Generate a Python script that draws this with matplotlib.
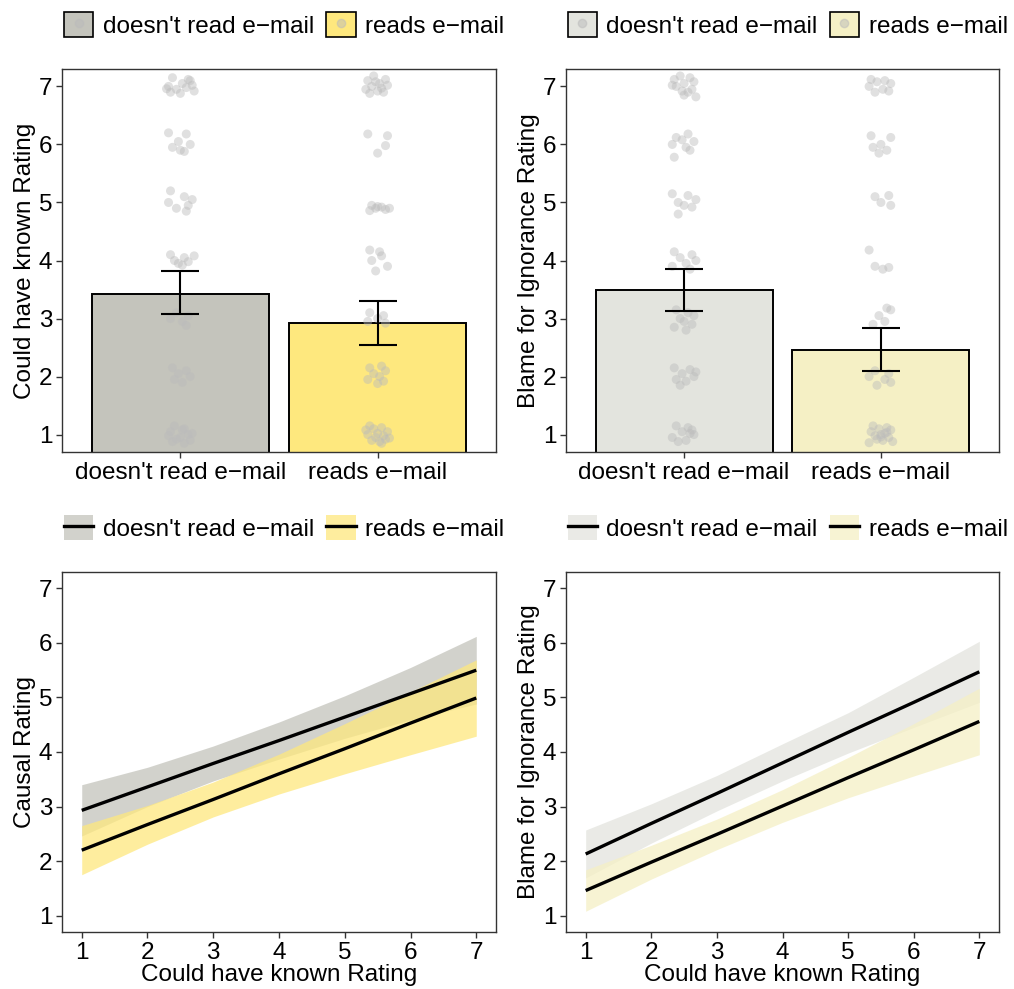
import matplotlib
matplotlib.use("Agg")
import matplotlib.pyplot as plt
from matplotlib.patches import Patch
from matplotlib.lines import Line2D
import numpy as np

plt.rcParams['font.family'] = ['Liberation Sans', 'DejaVu Sans']
FS = 17.5

# ---------------- data ----------------
groups = ["doesn't read e\u2212mail", "reads e\u2212mail"]

# top panels: bar means and error bar limits
cause_known_mean = [3.43, 2.93]
cause_known_lo = [3.07, 2.55]
cause_known_hi = [3.82, 3.31]

blame_mean = [3.49, 2.46]
blame_lo = [3.13, 2.10]
blame_hi = [3.86, 2.84]

# jittered raw points (y value, x offset)
tl_no_y = [7.15, 7.10, 7.05, 7.00, 6.98, 6.95, 6.92, 6.90, 6.88, 7.12, 6.96, 7.02,
           6.20, 6.18, 6.00, 5.95, 5.90, 5.88, 6.05,
           5.20, 5.10, 5.00, 4.95, 4.90, 4.85, 5.05,
           4.10, 4.08, 4.05, 4.00, 3.98, 3.95, 3.92,
           3.10, 3.05, 3.00, 2.95, 2.88,
           2.15, 2.10, 2.05, 2.00, 1.95, 1.90,
           1.15, 1.10, 1.05, 1.00, 0.95, 0.92, 0.90, 0.88, 0.85, 1.02, 0.98, 1.08]
tl_no_dx = [-0.04, 0.05, 0.01, -0.06, 0.03, -0.02, 0.07, -0.05, 0.00, 0.04, -0.07, 0.06,
            -0.06, 0.03, 0.05, -0.04, 0.00, 0.02, -0.01,
            -0.05, 0.02, -0.06, 0.04, -0.02, 0.03, 0.06,
            -0.05, 0.07, 0.02, -0.03, 0.04, -0.01, 0.01,
            -0.02, 0.04, -0.05, 0.01, 0.03,
            -0.04, 0.03, -0.01, 0.05, -0.03, 0.01,
            -0.03, 0.02, -0.05, 0.04, 0.00, -0.02, 0.05, -0.04, 0.02, 0.06, -0.06, 0.01]

tl_yes_y = [7.18, 7.12, 7.10, 7.05, 7.02, 7.00, 6.97, 6.95, 6.92, 6.90, 7.08, 6.88,
            6.18, 6.15, 5.98, 5.85,
            4.95, 4.92, 4.90, 4.88, 4.86, 4.90, 4.93,
            4.18, 4.15, 4.08, 4.00, 3.90, 3.82,
            3.10, 3.05, 3.00, 2.95, 2.92,
            2.18, 2.15, 2.10, 2.05, 2.00, 1.95, 1.92, 1.88,
            1.15, 1.12, 1.10, 1.05, 1.02, 1.00, 0.98, 0.95, 0.92, 0.90, 0.88, 0.85, 1.08, 0.94]
tl_yes_dx = [-0.02, 0.04, -0.05, 0.01, 0.05, -0.03, 0.02, -0.06, 0.00, 0.03, -0.01, -0.04,
             -0.05, 0.05, 0.04, 0.00,
             -0.03, 0.02, -0.01, 0.04, -0.04, 0.06, 0.00,
             -0.04, 0.01, 0.02, -0.03, 0.05, -0.01,
             -0.04, 0.03, 0.00, -0.05, 0.04,
             0.02, -0.04, 0.04, -0.02, 0.01, -0.05, 0.03, 0.00,
             -0.04, 0.02, -0.02, 0.05, 0.00, -0.05, 0.03, -0.01, 0.04, -0.03, 0.01, 0.02, -0.06, 0.06]

tr_no_y = [7.18, 7.15, 7.12, 7.08, 7.05, 7.00, 6.95, 6.92, 6.90, 6.85, 6.82, 7.02,
           6.18, 6.12, 6.05, 6.00, 5.95, 5.90, 5.78, 6.08,
           5.15, 5.12, 5.05, 5.00, 4.95, 4.92, 4.80,
           4.15, 4.10, 4.05, 4.00, 3.95, 3.90, 3.85,
           3.15, 3.10, 3.05, 3.00, 2.95, 2.90, 2.85, 2.80,
           2.15, 2.12, 2.05, 2.00, 1.95, 1.92, 1.85, 2.08,
           1.15, 1.12, 1.08, 1.05, 1.00, 0.95, 0.90, 0.88, 1.02]
tr_no_dx = [-0.02, 0.03, -0.05, 0.05, 0.00, -0.04, 0.04, -0.01, 0.02, 0.00, 0.06, -0.06,
            0.02, -0.04, 0.05, -0.06, 0.01, 0.03, -0.05, -0.01,
            -0.06, 0.02, 0.06, -0.03, 0.00, 0.04, -0.03,
            -0.05, 0.04, -0.02, 0.06, 0.01, -0.06, 0.03,
            -0.04, 0.02, 0.05, -0.02, 0.00, 0.04, -0.05, 0.01,
            -0.05, 0.03, -0.01, 0.05, -0.04, 0.01, -0.02, 0.06,
            -0.04, 0.02, 0.04, -0.01, 0.05, -0.06, 0.01, -0.03, 0.03]

tr_yes_y = [7.12, 7.10, 7.08, 7.05, 7.00, 6.95, 6.92, 6.90,
            6.15, 6.12, 6.00, 5.95, 5.90, 5.85,
            5.12, 5.10, 5.00, 4.95,
            4.18, 3.90, 3.88, 3.85,
            3.18, 3.15, 3.05, 2.95, 2.90,
            2.10, 2.05, 2.00, 1.95, 1.90, 1.85,
            1.15, 1.12, 1.10, 1.08, 1.05, 1.02, 1.00, 0.98, 0.95, 0.92, 0.90, 0.88, 0.86, 1.04, 0.96]
tr_yes_dx = [-0.05, 0.02, -0.02, 0.05, -0.06, 0.01, 0.04, -0.03,
             -0.05, 0.05, 0.00, -0.04, 0.03, -0.01,
             0.04, -0.03, 0.00, 0.05,
             -0.06, -0.03, 0.04, 0.01,
             0.03, 0.05, -0.01, 0.02, -0.04,
             -0.03, 0.04, -0.06, 0.02, 0.05, -0.02,
             -0.04, 0.03, -0.01, 0.05, -0.05, 0.02, 0.00, -0.03, 0.04, -0.02, 0.01, 0.06, -0.06, 0.03, 0.00]

# bottom panels: regression lines and confidence bands
known_x = [1, 2, 3, 4, 5, 6, 7]

causal_no_fit = [2.93, 3.36, 3.79, 4.21, 4.64, 5.07, 5.50]
causal_no_lo = [2.46, 3.00, 3.47, 3.87, 4.25, 4.59, 4.88]
causal_no_hi = [3.40, 3.72, 4.11, 4.55, 5.03, 5.55, 6.12]
causal_yes_fit = [2.20, 2.67, 3.13, 3.60, 4.06, 4.53, 4.99]
causal_yes_lo = [1.75, 2.31, 2.81, 3.23, 3.60, 3.95, 4.29]
causal_yes_hi = [2.65, 3.02, 3.45, 3.96, 4.52, 5.10, 5.69]

blameb_no_fit = [2.13, 2.69, 3.24, 3.80, 4.36, 4.91, 5.47]
blameb_no_lo = [1.69, 2.33, 2.92, 3.47, 3.98, 4.45, 4.91]
blameb_no_hi = [2.57, 3.05, 3.57, 4.15, 4.72, 5.37, 6.03]
blameb_yes_fit = [1.46, 1.98, 2.49, 3.01, 3.53, 4.04, 4.56]
blameb_yes_lo = [1.08, 1.67, 2.21, 2.71, 3.16, 3.56, 3.95]
blameb_yes_hi = [1.84, 2.29, 2.77, 3.31, 3.90, 4.52, 5.17]

yticks = [1, 2, 3, 4, 5, 6, 7]

# ---------------- style ----------------
dark = ['#C4C4BC', '#FEE87E']
light = ['#E3E4DE', '#F5F0C5']
pt_color = '#BBBBBB'
spine_c = '#333333'

W, H = 1014, 989
fig = plt.figure(figsize=(W / 100, H / 100), dpi=100)

def rect(l, t, r, b):
    return [l / W, 1 - b / H, (r - l) / W, (b - t) / H]

ax_tl = fig.add_axes(rect(62, 69, 496, 452))
ax_tr = fig.add_axes(rect(566, 69, 999, 452))
ax_bl = fig.add_axes(rect(62, 572, 496, 932))
ax_br = fig.add_axes(rect(566, 572, 999, 932))

def style(ax):
    for s in ax.spines.values():
        s.set_color(spine_c)
        s.set_linewidth(1.0)
    ax.tick_params(axis='both', direction='out', length=4, width=1.0, color=spine_c,
                   labelsize=FS, labelcolor='black', pad=3)
    ax.set_ylim(0.7, 7.3)
    ax.set_yticks(yticks)

def bar_panel(ax, means, lo, hi, cols, pts, ylabel):
    xs = np.arange(1, len(groups) + 1)
    ax.bar(xs, means, width=0.9, color=cols, edgecolor='black', linewidth=1.4, zorder=1)
    for i, (py, pdx) in enumerate(pts):
        ax.scatter(xs[i] + np.array(pdx), py, s=42, color=pt_color, alpha=0.45,
                   edgecolors='none', zorder=2)
    ax.errorbar(xs, means,
                yerr=[np.array(means) - np.array(lo), np.array(hi) - np.array(means)],
                fmt='none', ecolor='black', elinewidth=1.5, capsize=14, capthick=1.5, zorder=3)
    ax.set_xlim(0.4, 2.6)
    ax.set_xticks(xs)
    ax.set_xticklabels(groups)
    style(ax)
    ax.set_ylabel(ylabel, fontsize=FS, labelpad=2)
    handles = [(Patch(facecolor=cols[i], edgecolor='black', linewidth=1.2),
                Line2D([], [], marker='o', color=pt_color, alpha=0.5, ls='none', ms=6))
               for i in range(2)]
    ax.legend(handles, groups, loc='center', bbox_to_anchor=(0.512, 1 + 44 / 383), ncol=2,
              frameon=False, fontsize=FS, handlelength=1.2, handleheight=1.2,
              handletextpad=0.4, columnspacing=0.5, borderaxespad=0)

def line_panel(ax, fits, los, his, cols, ylabel):
    for f, lo, hi, c in zip(fits, los, his, cols):
        ax.fill_between(known_x, lo, hi, color=c, alpha=0.75, linewidth=0, zorder=1)
    for f in fits:
        ax.plot(known_x, f, color='black', lw=2.4, zorder=3, solid_capstyle='butt')
    ax.set_xlim(0.7, 7.3)
    ax.set_xticks(known_x)
    style(ax)
    ax.set_ylabel(ylabel, fontsize=FS, labelpad=2)
    ax.set_xlabel('Could have known Rating', fontsize=FS, labelpad=0)
    handles = [(Patch(facecolor=cols[i], alpha=0.75, edgecolor='none'),
                Line2D([], [], color='black', lw=2.4)) for i in range(2)]
    ax.legend(handles, groups, loc='center', bbox_to_anchor=(0.512, 1 + 44 / 360), ncol=2,
              frameon=False, fontsize=FS, handlelength=1.2, handleheight=1.2,
              handletextpad=0.4, columnspacing=0.5, borderaxespad=0)

bar_panel(ax_tl, cause_known_mean, cause_known_lo, cause_known_hi, dark,
          [(tl_no_y, tl_no_dx), (tl_yes_y, tl_yes_dx)], 'Could have known Rating')
bar_panel(ax_tr, blame_mean, blame_lo, blame_hi, light,
          [(tr_no_y, tr_no_dx), (tr_yes_y, tr_yes_dx)], 'Blame for Ignorance Rating')

line_panel(ax_bl, [causal_no_fit, causal_yes_fit], [causal_no_lo, causal_yes_lo],
           [causal_no_hi, causal_yes_hi], dark, 'Causal Rating')
line_panel(ax_br, [blameb_no_fit, blameb_yes_fit], [blameb_no_lo, blameb_yes_lo],
           [blameb_no_hi, blameb_yes_hi], light, 'Blame for Ignorance Rating')

fig.savefig('out.png', dpi=100)
